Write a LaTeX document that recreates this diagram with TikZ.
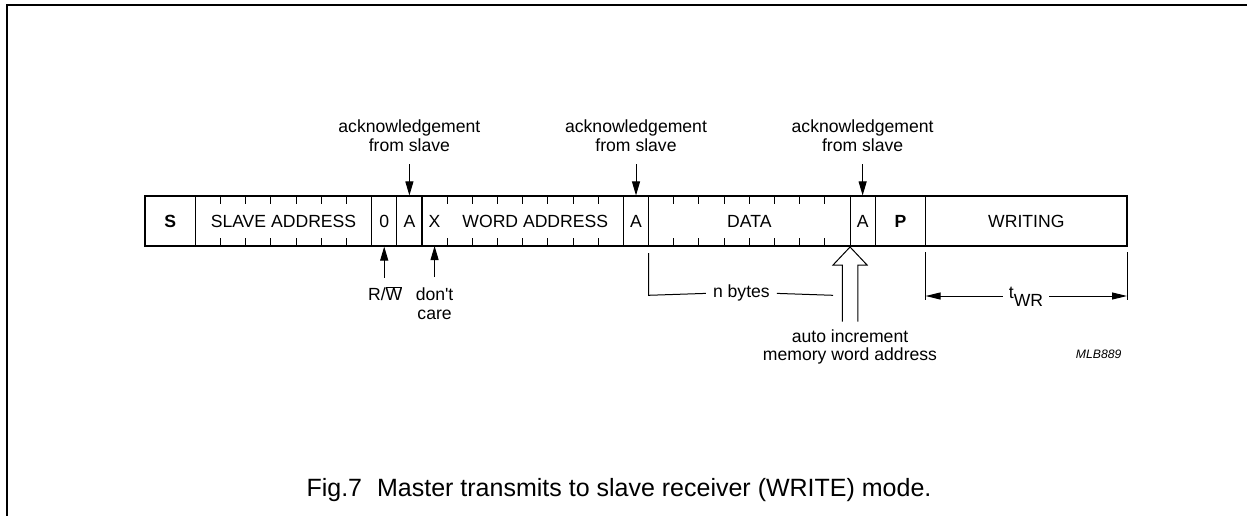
\documentclass[tikz,border=0pt]{standalone}
\usepackage{fontspec}
\setmainfont{Liberation Sans}[Ligatures=TeXOff]
\usetikzlibrary{arrows.meta}
\newcommand\dgfont{\fontsize{17.6}{18.4}\selectfont}
\newcommand\dgcap{\fontsize{25}{29}\selectfont}
\newcommand\dgtag{\fontsize{12.2}{14}\selectfont\itshape}
\def\u{25.18}
\begin{document}
\begin{tikzpicture}[x=1pt,y=-1pt,
  cell/.style={draw,line width=1.1pt,minimum height=50pt,inner sep=0pt,font=\dgfont},
  txt/.style={font=\dgfont,inner sep=0pt,align=center},
  tick/.style={line width=1pt},
  thin/.style={line width=1pt},
  arr/.style={line width=1pt,-{Triangle[length=14pt,width=8pt]}},
  dimarr/.style={line width=1pt,-{Triangle[length=15pt,width=7pt]}},
  frame/.style={line width=2pt}]
\useasboundingbox (0,0) rectangle (1247,516);
% frame
\coordinate (f1) at (1247,5.5);
\coordinate (f2) at (7,5.5);
\coordinate (f3) at (7,516);
\draw[frame] (f1) -- (f2) -- (f3);
% cells
\node[cell,minimum width={2*\u*1pt}] (S) at ({145+1*\u},221) {\bfseries S};
\node[cell,minimum width={7*\u*1pt}] (SA) at ({145+5.5*\u},221) {SLAVE ADDRESS};
\node[cell,minimum width={1*\u*1pt}] (R0) at ({145+9.5*\u},221) {0};
\node[cell,minimum width={1*\u*1pt}] (A1) at ({145+10.5*\u},221) {A};
\node[cell,minimum width={8*\u*1pt}] (WA) at ({145+15*\u},221) {};
\node[cell,minimum width={1*\u*1pt}] (A2) at ({145+19.5*\u},221) {A};
\node[cell,minimum width={8*\u*1pt}] (DA) at ({145+24*\u},221) {DATA};
\node[cell,minimum width={1*\u*1pt}] (A3) at ({145+28.5*\u},221) {A};
\node[cell,minimum width={2*\u*1pt}] (P) at ({145+30*\u},221) {\bfseries P};
\node[cell,minimum width={8*\u*1pt}] (WR) at ({145+35*\u},221) {WRITING};
\node[txt] (X) at ({145+11.5*\u},221) {X};
\node[txt] (WAt) at ({145+15.5*\u},221) {WORD ADDRESS};
% ticks
\foreach \b in {3,...,8,12,13,...,18,21,22,...,27}{
  \draw[tick] ({145+\b*\u},196) -- ++(0,8);
  \draw[tick] ({145+\b*\u},246) -- ++(0,-8);
}
% acknowledgement arrows and labels
\foreach \a in {A1,A2,A3}{
  \draw[arr] ([yshift=31pt]\a.north) -- (\a.north);
  \node[txt,anchor=base] (ack\a) at ([yshift=44.3pt]\a.north) {acknowledgement\\from slave};
}
% R/W and don't care
\draw[arr] ([yshift=-31pt]R0.south) -- (R0.south);
\coordinate (xs) at ({145+11.5*\u},246);
\draw[arr] ([yshift=-31pt]xs) -- (xs);
\node[txt,anchor=base] (rw) at ({145+9.5*\u+1},300.7) {R/$\overline{\mbox{W}}$};
\node[txt,anchor=base] (dc) at ({145+11.5*\u},319) {don't\\care};
% n bytes
\node[txt,anchor=mid,inner xsep=7pt] (nb) at (741.4,295.3) {n bytes};
\coordinate (nb0) at ({145+20*\u},253);
\coordinate (nb1) at (833,295.3);
\draw[thin] (nb0) -- (nb0 |- nb.mid) -- (nb.west);
\draw[thin] (nb.east) -- (nb1);
% hollow arrow
\coordinate (tip) at ({145+28*\u},247);
\draw[thin,line join=miter] ([xshift=-7.7pt,yshift=-74.7pt]tip) -- ([xshift=-7.7pt,yshift=-18pt]tip)
  -- ([xshift=-17pt,yshift=-18pt]tip) -- (tip) -- ([xshift=17pt,yshift=-18pt]tip)
  -- ([xshift=7.7pt,yshift=-18pt]tip) -- ([xshift=7.7pt,yshift=-74.7pt]tip);
\node[txt,anchor=base] (auto) at (850,360.5) {auto increment\\memory word address};
% tWR
\coordinate (t0) at ({145+31*\u},252);
\coordinate (t1) at ({145+39*\u},252);
\draw[thin] (t0) -- ++(0,48);
\draw[thin] (t1) -- ++(0,48);
\node[txt,anchor=base,inner xsep=6pt] (tw) at (1026,298.5) {t\raisebox{-7.5pt}{WR}};
\draw[dimarr] (tw.west |- 0,296) -- (t0 |- 0,296);
\draw[dimarr] (tw.east |- 0,296) -- (t1 |- 0,296);
% tag and caption
\node[inner sep=0pt,anchor=base,font=\dgtag] (tag) at (1098.7,358) {MLB889};
\node[inner sep=0pt,anchor=base,font=\dgcap] (cap) at (619,496) {Fig.7\hspace{0.6em}Master transmits to slave receiver (WRITE) mode.};
\end{tikzpicture}
\end{document}
